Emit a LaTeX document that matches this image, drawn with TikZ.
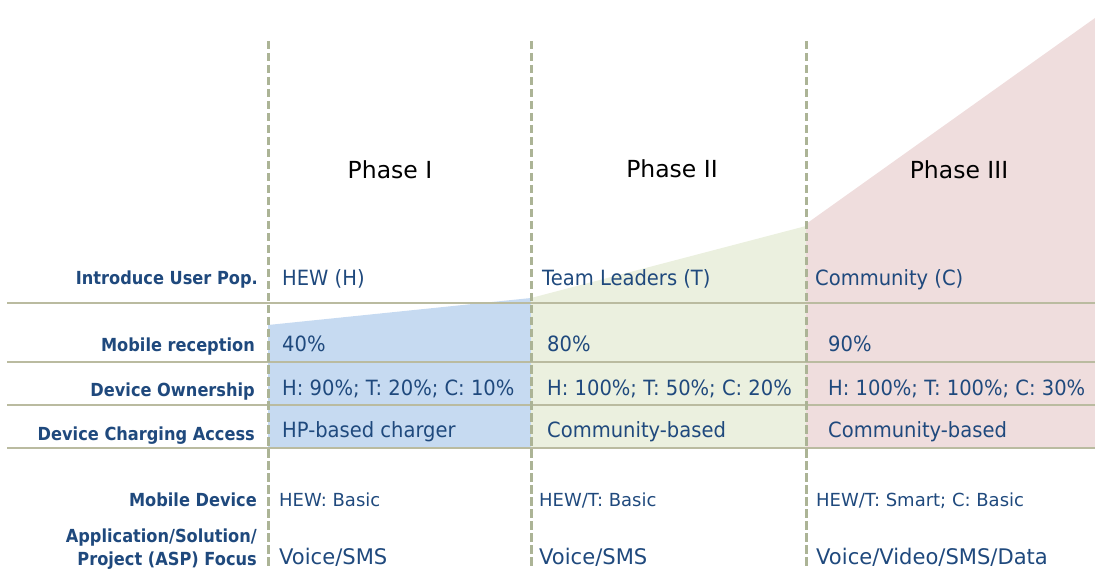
\documentclass[tikz,border=0pt]{standalone}
\usepackage{fontspec}
\setmainfont{DejaVu Sans}
\newfontfamily\labfont[FakeStretch=0.9,BoldFeatures={FakeStretch=0.9}]{DejaVu Sans}
\newfontfamily\valfont[FakeStretch=0.93]{DejaVu Sans}
\newfontfamily\bvalfont[FakeStretch=0.98]{DejaVu Sans}
\definecolor{txt}{HTML}{1F497D}
\definecolor{gridc}{RGB}{186,187,160}
\definecolor{dashc}{RGB}{172,180,150}
\definecolor{blu}{HTML}{C6DAF1}
\definecolor{grn}{HTML}{EBF0DF}
\definecolor{pnk}{HTML}{EFDDDD}
\tikzset{
  lab/.style={anchor=base east,inner sep=0pt,text=txt,font=\labfont\fontsize{18}{20}\selectfont\bfseries},
  val/.style={anchor=base west,inner sep=0pt,text=txt,font=\valfont\fontsize{21}{23}\selectfont},
  sval/.style={anchor=base west,inner sep=0pt,text=txt,font=\fontsize{18}{20}\selectfont},
  bval/.style={anchor=base west,inner sep=0pt,text=txt,font=\bvalfont\fontsize{21.5}{23}\selectfont},
  phase/.style={anchor=base,inner sep=0pt,text=black,font=\fontsize{23.5}{26}\selectfont},
  hline/.style={draw=gridc,line width=1.5pt},
  vdash/.style={draw=dashc,line width=3pt,dash pattern=on 8.5pt off 3.5pt}
}
\begin{document}
\begin{tikzpicture}[x=1pt,y=-1pt]
\useasboundingbox (0,0) rectangle (1095,569);
% coloured areas
\fill[blu] (268,325) -- (531,298) -- (531,448) -- (268,448) -- cycle;
\fill[grn] (531,298) -- (806,226) -- (806,448) -- (531,448) -- cycle;
\fill[pnk] (806,224) -- (1095,18) -- (1095,448) -- (806,448) -- cycle;
% horizontal rules
\coordinate (h1a) at (7,303); \coordinate (h1b) at (1095,303);
\coordinate (h2a) at (7,362); \coordinate (h2b) at (1095,362);
\coordinate (h3a) at (7,405); \coordinate (h3b) at (1095,405);
\coordinate (h4a) at (7,448); \coordinate (h4b) at (1095,448);
\draw[hline] (h1a) -- (h1b);
\draw[hline] (h2a) -- (h2b);
\draw[hline] (h3a) -- (h3b);
\draw[hline] (h4a) -- (h4b);
% vertical dashed separators
\coordinate (v1a) at (268,41); \coordinate (v1b) at (268,569);
\coordinate (v2a) at (531,41); \coordinate (v2b) at (531,569);
\coordinate (v3a) at (806,41); \coordinate (v3b) at (806,569);
\draw[vdash] (v1a) -- (v1b);
\draw[vdash] (v2a) -- (v2b);
\draw[vdash] (v3a) -- (v3b);
% phase headings
\node[phase] (p1) at (390,179) {Phase I};
\node[phase] (p2) at (672,178) {Phase II};
\node[phase] (p3) at (959,179) {Phase III};
% row labels
\node[lab] (l1) at (258,285) {Introduce User Pop.};
\node[lab] (l2) at (255,351) {Mobile reception};
\node[lab] (l3) at (255,396) {Device Ownership};
\node[lab] (l4) at (255,440) {Device Charging Access};
\node[lab] (l5) at (257,506) {Mobile Device};
\node[lab] (l6) at (257,542) {Application/Solution/};
\node[lab] (l7) at (257,565) {Project (ASP) Focus};
% column 1
\node[val] (a1) at (282,286) {HEW (H)};
\node[val] (a2) at (282,352) {40\%};
\node[val] (a3) at (282,395) {H: 90\%; T: 20\%; C: 10\%};
\node[val] (a4) at (282,437) {HP-based charger};
\node[sval] (a5) at (279,506) {HEW: Basic};
\node[bval] (a6) at (279,564) {Voice/SMS};
% column 2
\node[val] (b1) at (542,286) {Team Leaders (T)};
\node[val] (b2) at (547,352) {80\%};
\node[val] (b3) at (547,395) {H: 100\%; T: 50\%; C: 20\%};
\node[val] (b4) at (547,437) {Community-based};
\node[sval] (b5) at (539,506) {HEW/T: Basic};
\node[bval] (b6) at (539,564) {Voice/SMS};
% column 3
\node[val] (c1) at (815,286) {Community (C)};
\node[val] (c2) at (828,352) {90\%};
\node[val] (c3) at (828,395) {H: 100\%; T: 100\%; C: 30\%};
\node[val] (c4) at (828,437) {Community-based};
\node[sval] (c5) at (816,506) {HEW/T: Smart; C: Basic};
\node[bval] (c6) at (816,564) {Voice/Video/SMS/Data};
\end{tikzpicture}
\end{document}
